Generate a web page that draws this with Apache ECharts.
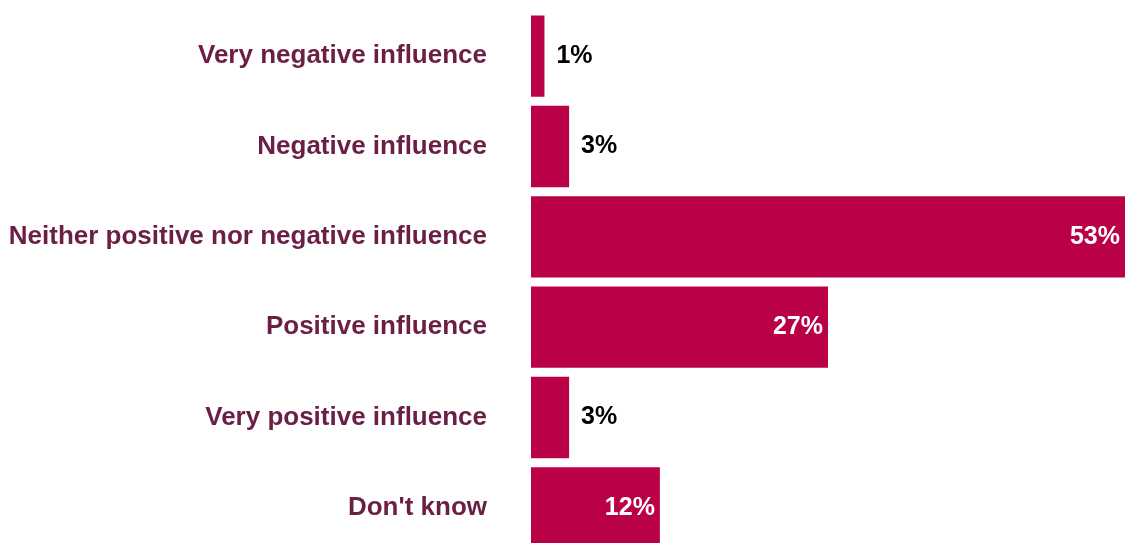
<!DOCTYPE html>
<html>
<head>
<meta charset="utf-8">
<script src="https://cdn.jsdelivr.net/npm/echarts@6/dist/echarts.min.js"></script>
<style>
    html, body { margin: 0; padding: 0; background: #fff; }
    #chart { width: 1129px; height: 543px; }
</style>
</head>
<body>
<div id="chart"></div>
<script>
var categories = ["Very negative influence", "Negative influence", "Neither positive nor negative influence",
    "Positive influence", "Very positive influence", "Don't know"];
// bar lengths (labels show the rounded figure)
var values = [1.2, 3.4, 53, 26.5, 3.4, 11.5];
var labels = ["1%", "3%", "53%", "27%", "3%", "12%"];
// which bars carry their label inside
var inside = [false, false, true, true, false, true];

var barColor = "#BA0047";
var catColor = "#6B1F45";

var myChart = echarts.init(document.getElementById("chart"));

var seriesData = values.map(function (v, i) {
    return {
        value: v,
        label: inside[i]
            ? { position: "insideRight", distance: 5, color: "#fff" }
            : { position: "right", distance: 12, color: "#000" }
    };
});

var option = {
    animation: false,
    grid: {
        left: 531,
        top: 11,
        width: 594,
        height: 542,
        outerBoundsMode: "none"
    },
    xAxis: {
        type: "value",
        min: 0,
        max: 53,
        show: false
    },
    yAxis: {
        type: "category",
        inverse: true,
        data: categories,
        axisLine: { show: false },
        axisTick: { show: false },
        axisLabel: {
            margin: 44,
            color: catColor,
            fontFamily: "Liberation Sans",
            fontWeight: "bold",
            fontSize: 26
        }
    },
    series: [
        {
            type: "bar",
            data: seriesData,
            barCategoryGap: "10%",
            itemStyle: { color: barColor },
            label: {
                show: true,
                fontFamily: "Liberation Sans",
                fontWeight: "bold",
                fontSize: 25,
                formatter: function (p) {
                    return labels[p.dataIndex];
                }
            }
        }
    ]
};

myChart.setOption(option);
</script>
</body>
</html>
